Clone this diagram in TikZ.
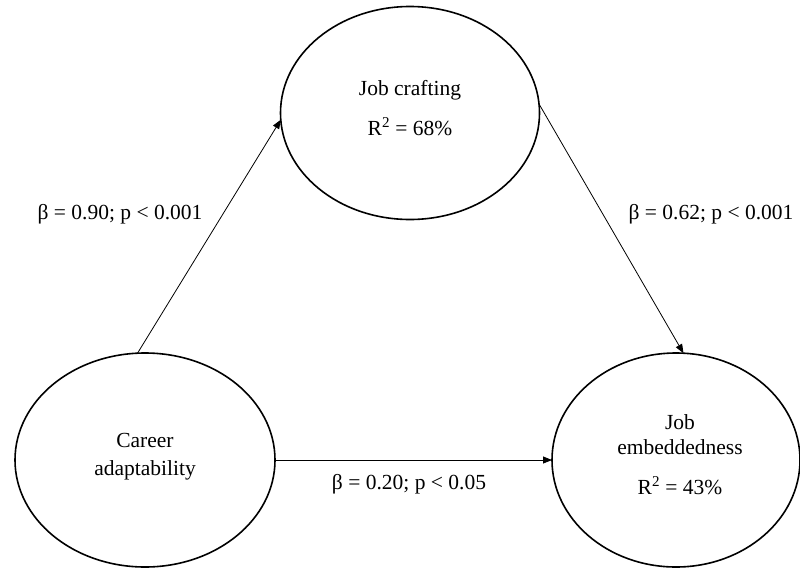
\documentclass[tikz,border=0pt]{standalone}
\usepackage{fontspec}
\setmainfont{Liberation Serif}
\usetikzlibrary{shapes.geometric,arrows.meta}
\begin{document}
\begin{tikzpicture}[x=1pt,y=-1pt,
  oval/.style={draw,ellipse,line width=1.6pt,inner sep=0pt,outer sep=0pt},
  lbl/.style={font=\fontsize{21.5}{25}\selectfont,inner sep=0pt,anchor=base},
  arr/.style={line width=0.8pt,-{Triangle[length=9pt,width=7pt]}}]
\useasboundingbox (0,0) rectangle (800,568);
\fill[white] (0,0) rectangle (800,568);
\node[oval,minimum width=259pt,minimum height=213pt] (T) at (410,113) {};
\node[oval,minimum width=260pt,minimum height=214pt] (L) at (145,460) {};
\node[oval,minimum width=248pt,minimum height=214pt] (R) at (676,460) {};
\node[lbl] (t1) at (410,95) {Job crafting};
\node[lbl] (t2) at (410,135) {R\textsuperscript{2} = 68\%};
\node[lbl] (l1) at (145,447) {Career};
\node[lbl] (l2) at (145,475) {adaptability};
\node[lbl] (r1) at (680,429) {Job};
\node[lbl] (r2) at (680,454) {embeddedness};
\node[lbl] (r3) at (680,494) {R\textsuperscript{2} = 43\%};
\node[lbl] (b1) at (120,219) {β = 0.90; p < 0.001};
\node[lbl] (b2) at (711,219) {β = 0.62; p < 0.001};
\node[lbl] (b3) at (409,489) {β = 0.20; p < 0.05};
\draw[arr] (L.94) -- (T.183);
\draw[arr] (T.4) -- (R.86);
\draw[arr] (L.east) -- (R.west);
\end{tikzpicture}
\end{document}
